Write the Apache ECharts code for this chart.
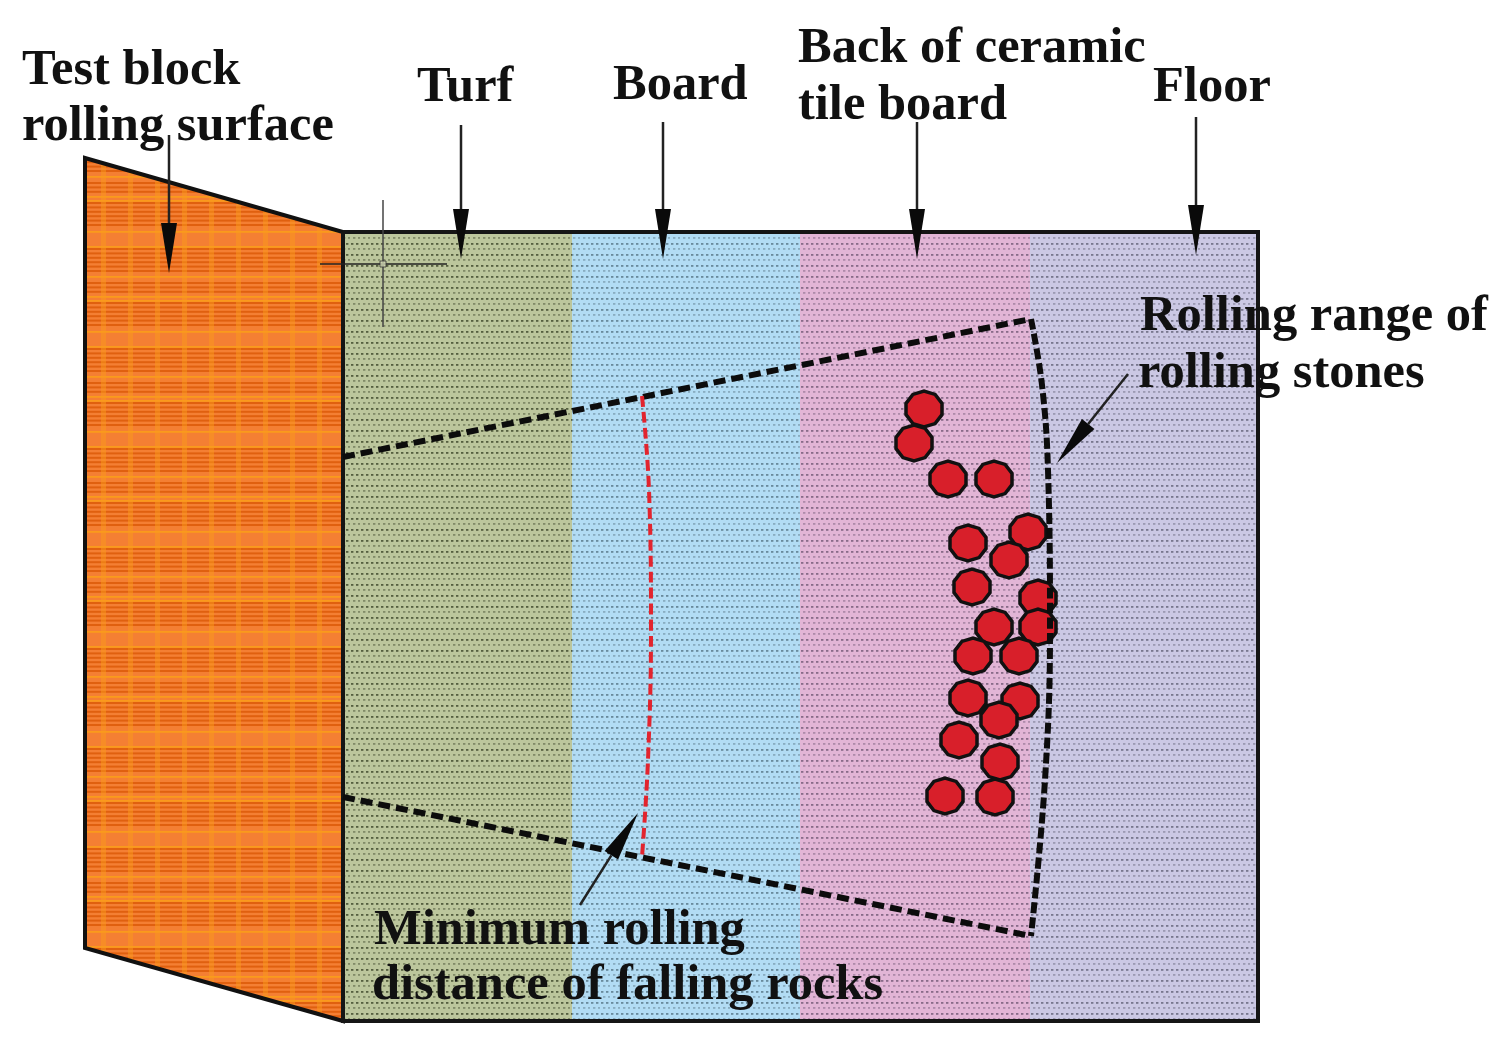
<!DOCTYPE html>
<html>
<head>
<meta charset="utf-8">
<title>Rolling range of rolling stones</title>
<script src="https://cdn.jsdelivr.net/npm/echarts@6/dist/echarts.min.js"></script>
<style>
  html, body { margin: 0; padding: 0; background: #fff; }
  #main { width: 1503px; height: 1056px; }
</style>
</head>
<body>
<div id="main"></div>
<script>
var regionNames = ['Turf', 'Board', 'Back of ceramic tile board', 'Floor'];
var regionEdges = [343, 572, 800, 1030, 1258];
var regionColors = ['#bcc69c', '#b2dcf4', '#e2b5d6', '#cbc8e4'];
var regionDots = ['#2a3318', '#4a6676', '#624c68', '#54546a'];

var blockX = [85, 343, 343, 85];
var blockY = [158, 232, 1021, 948];
var frameX = [343, 1258, 1258, 343, 343];
var frameY = [232, 232, 1021, 1021, 232];

var upperBoundary = [[343, 457], [1031, 319]];
var lowerBoundary = [[343, 797], [1031, 936]];
var rangeArc = [[1031, 319], [1042, 385], [1048, 470], [1050, 630], [1045, 780], [1031, 936]];
var minimumArc = [[642, 396], [649, 490], [651, 630], [648, 760], [642, 857]];

var stoneX = [924, 914, 948, 994, 1028, 968, 1009, 972, 1038, 994, 1038, 973, 1019, 968, 1020, 999, 959, 1000, 945, 995];
var stoneY = [409, 443, 479, 479, 532, 543, 560, 587, 598, 627, 627, 656, 656, 698, 701, 720, 740, 762, 796, 797];

// tail x, tail y, tip x, tip y
var arrows = [
  [169, 135, 169, 273],
  [461, 125, 461, 259],
  [663, 122, 663, 259],
  [917, 122, 917, 259],
  [1196, 117, 1196, 255],
  [1128, 374, 1057, 463],
  [580, 905, 638, 813]
];

var crossH = [[320, 264], [447, 264]];
var crossV = [[383, 200], [383, 327]];
var crossCentre = [[383, 264]];

var labelTexts = ['Test block', 'rolling surface', 'Turf', 'Board', 'Back of ceramic', 'tile board', 'Floor',
  'Rolling range of', 'rolling stones', 'Minimum rolling', 'distance of falling rocks'];
var labelX = [22, 22, 417, 613, 798, 798, 1153, 1140, 1138, 374, 372];
var labelY = [71, 127, 88, 86, 49, 106, 88, 317, 374, 931, 986];

// the stones are drawn as ten sided polygons
function stoneSymbol() {
  var p = [];
  for (var i = 0; i < 10; i++) {
    var a = Math.PI * 2 * i / 10 + Math.PI / 10;
    p.push((i ? 'L' : 'M') + (50 + 50 * Math.cos(a)).toFixed(1) + ',' + (50 + 50 * Math.sin(a)).toFixed(1));
  }
  return 'path://' + p.join(' ') + ' Z';
}

function dotTile(bg, dot) {
  var c = document.createElement('canvas');
  c.width = 10; c.height = 11;
  var g = c.getContext('2d');
  g.fillStyle = bg;
  g.fillRect(0, 0, 10, 11);
  g.fillStyle = dot;
  g.globalAlpha = 0.7;
  g.fillRect(1, 1, 2.4, 1.8); g.fillRect(6, 1, 2.4, 1.8);
  g.globalAlpha = 0.4;
  g.fillRect(3, 6, 2.4, 1.8); g.fillRect(8, 6, 2, 1.8);
  return c;
}

function orangeTile() {
  var c = document.createElement('canvas');
  c.width = 27; c.height = 100;
  var g = c.getContext('2d');
  var y;
  g.fillStyle = '#f47f33';
  g.fillRect(0, 0, 27, 100);
  g.fillStyle = '#e0600f';
  [[2, 28], [48, 72], [82, 94]].forEach(function (band) {
    for (y = band[0]; y < band[1]; y += 4.4) g.fillRect(0, y, 27, 2);
  });
  g.fillStyle = '#fa9a1c';
  [0, 31, 46, 76, 96].forEach(function (yy) { g.fillRect(0, yy, 27, 1.8); });
  g.globalAlpha = 0.5;
  g.fillRect(20, 0, 5, 100);
  return c;
}

var chart = echarts.init(document.getElementById('main'), null, { renderer: 'canvas' });

function lineSeries(data, color, width, dash, z, smooth) {
  return {
    type: 'line',
    data: data,
    symbol: 'none',
    silent: true,
    smooth: smooth || false,
    z: z,
    clip: false,
    lineStyle: { color: color, width: width, type: dash, cap: 'butt', join: 'miter' }
  };
}

var option = {
  animation: false,
  backgroundColor: '#fff',
  grid: { left: 0, right: 0, top: 0, bottom: 0 },
  xAxis: { type: 'value', min: 0, max: 1503, show: false },
  yAxis: { type: 'value', min: 0, max: 1056, inverse: true, show: false },
  series: [
    {
      type: 'custom',
      silent: true,
      z: 1,
      clip: false,
      data: regionNames.map(function (n, i) { return [regionEdges[i], regionEdges[i + 1]]; }),
      renderItem: function (params, api) {
        var a = api.coord([api.value(0), frameY[0]]);
        var b = api.coord([api.value(1), frameY[2]]);
        return {
          type: 'rect',
          shape: { x: a[0], y: a[1], width: b[0] - a[0], height: b[1] - a[1] },
          style: {
            fill: {
              image: dotTile(regionColors[params.dataIndex], regionDots[params.dataIndex]),
              repeat: 'repeat'
            }
          }
        };
      }
    },
    {
      type: 'custom',
      silent: true,
      z: 2,
      clip: false,
      data: [0],
      renderItem: function (params, api) {
        return {
          type: 'polygon',
          shape: { points: blockX.map(function (x, i) { return api.coord([x, blockY[i]]); }) },
          style: {
            fill: { image: orangeTile(), repeat: 'repeat' },
            stroke: '#111',
            lineWidth: 4
          }
        };
      }
    },
    lineSeries(frameX.map(function (x, i) { return [x, frameY[i]]; }), '#151515', 4, 'solid', 3),
    {
      type: 'scatter',
      silent: true,
      z: 4,
      symbol: stoneSymbol(),
      symbolSize: 36,
      data: stoneX.map(function (x, i) { return [x, stoneY[i]]; }),
      itemStyle: { color: '#d81f2a', borderColor: '#111', borderWidth: 3.5, opacity: 1 }
    },
    lineSeries(upperBoundary, '#0c0c0c', 6, [12, 6], 5),
    lineSeries(lowerBoundary, '#0c0c0c', 6, [12, 6], 5),
    lineSeries(rangeArc, '#0c0c0c', 6, [11, 4], 5, 0.4),
    lineSeries(minimumArc, '#e2242e', 4, [11, 5], 5, 0.4),
    lineSeries(crossH, '#222', 1.5, 'solid', 5),
    lineSeries(crossV, '#444', 1.5, 'solid', 5),
    {
      type: 'scatter',
      silent: true,
      z: 6,
      symbol: 'rect',
      symbolSize: 6,
      data: crossCentre,
      itemStyle: { color: '#cfd6b4', borderColor: '#333', borderWidth: 1 }
    },
    {
      type: 'custom',
      silent: true,
      z: 7,
      clip: false,
      data: arrows,
      renderItem: function (params, api) {
        var tail = api.coord([api.value(0), api.value(1)]);
        var tip = api.coord([api.value(2), api.value(3)]);
        var dx = tip[0] - tail[0], dy = tip[1] - tail[1];
        var len = Math.sqrt(dx * dx + dy * dy);
        var ux = dx / len, uy = dy / len;
        var bx = tip[0] - ux * 50, by = tip[1] - uy * 50;
        return {
          type: 'group',
          children: [
            {
              type: 'line',
              shape: { x1: tail[0], y1: tail[1], x2: bx, y2: by },
              style: { stroke: '#222', lineWidth: 2.5 }
            },
            {
              type: 'polygon',
              shape: { points: [tip, [bx - uy * 8, by + ux * 8], [bx + uy * 8, by - ux * 8]] },
              style: { fill: '#0a0a0a' }
            }
          ]
        };
      }
    },
    {
      type: 'custom',
      silent: true,
      z: 8,
      clip: false,
      data: labelTexts.map(function (t, i) { return [labelX[i], labelY[i]]; }),
      renderItem: function (params, api) {
        var p = api.coord([api.value(0), api.value(1)]);
        return {
          type: 'text',
          style: {
            text: labelTexts[params.dataIndex],
            x: p[0],
            y: p[1],
            align: 'left',
            verticalAlign: 'middle',
            fill: '#111',
            font: 'bold 50.5px "Liberation Serif"'
          }
        };
      }
    }
  ]
};

chart.setOption(option);
</script>
</body>
</html>
